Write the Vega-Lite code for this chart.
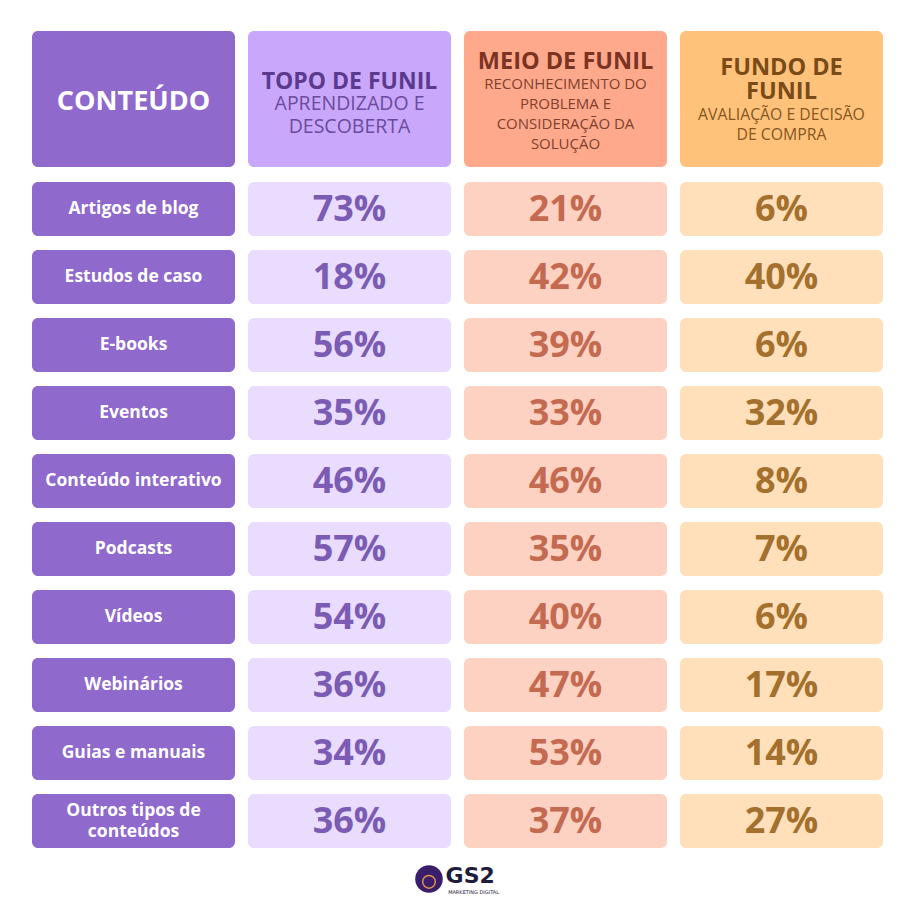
{
  "$schema": "https://vega.github.io/schema/vega-lite/v6.json",
  "background": "white",
  "padding": {"left": 32, "top": 31, "right": 31, "bottom": 8},
  "spacing": 14,
  "config": {"view": {"stroke": null}, "font": "Open Sans", "concat": {"spacing": 14}},
  "resolve": {"scale": {"fill": "independent", "color": "independent", "x": "independent", "y": "independent"}},
  "datasets": {
    "tipos": [
      {"tipo": "Artigos de blog", "rotulo": "Artigos de blog", "etapa": "Conteúdo"},
      {"tipo": "Estudos de caso", "rotulo": "Estudos de caso", "etapa": "Conteúdo"},
      {"tipo": "E-books", "rotulo": "E-books", "etapa": "Conteúdo"},
      {"tipo": "Eventos", "rotulo": "Eventos", "etapa": "Conteúdo"},
      {"tipo": "Conteúdo interativo", "rotulo": "Conteúdo interativo", "etapa": "Conteúdo"},
      {"tipo": "Podcasts", "rotulo": "Podcasts", "etapa": "Conteúdo"},
      {"tipo": "Vídeos", "rotulo": "Vídeos", "etapa": "Conteúdo"},
      {"tipo": "Webinários", "rotulo": "Webinários", "etapa": "Conteúdo"},
      {"tipo": "Guias e manuais", "rotulo": "Guias e manuais", "etapa": "Conteúdo"},
      {"tipo": "Outros tipos de conteúdos", "rotulo": "Outros tipos de\nconteúdos", "etapa": "Conteúdo"}
    ],
    "valores": [
      {"tipo": "Artigos de blog", "etapa": "Topo", "pct": 0.73},
      {"tipo": "Artigos de blog", "etapa": "Meio", "pct": 0.21},
      {"tipo": "Artigos de blog", "etapa": "Fundo", "pct": 0.06},
      {"tipo": "Estudos de caso", "etapa": "Topo", "pct": 0.18},
      {"tipo": "Estudos de caso", "etapa": "Meio", "pct": 0.42},
      {"tipo": "Estudos de caso", "etapa": "Fundo", "pct": 0.40},
      {"tipo": "E-books", "etapa": "Topo", "pct": 0.56},
      {"tipo": "E-books", "etapa": "Meio", "pct": 0.39},
      {"tipo": "E-books", "etapa": "Fundo", "pct": 0.06},
      {"tipo": "Eventos", "etapa": "Topo", "pct": 0.35},
      {"tipo": "Eventos", "etapa": "Meio", "pct": 0.33},
      {"tipo": "Eventos", "etapa": "Fundo", "pct": 0.32},
      {"tipo": "Conteúdo interativo", "etapa": "Topo", "pct": 0.46},
      {"tipo": "Conteúdo interativo", "etapa": "Meio", "pct": 0.46},
      {"tipo": "Conteúdo interativo", "etapa": "Fundo", "pct": 0.08},
      {"tipo": "Podcasts", "etapa": "Topo", "pct": 0.57},
      {"tipo": "Podcasts", "etapa": "Meio", "pct": 0.35},
      {"tipo": "Podcasts", "etapa": "Fundo", "pct": 0.07},
      {"tipo": "Vídeos", "etapa": "Topo", "pct": 0.54},
      {"tipo": "Vídeos", "etapa": "Meio", "pct": 0.40},
      {"tipo": "Vídeos", "etapa": "Fundo", "pct": 0.06},
      {"tipo": "Webinários", "etapa": "Topo", "pct": 0.36},
      {"tipo": "Webinários", "etapa": "Meio", "pct": 0.47},
      {"tipo": "Webinários", "etapa": "Fundo", "pct": 0.17},
      {"tipo": "Guias e manuais", "etapa": "Topo", "pct": 0.34},
      {"tipo": "Guias e manuais", "etapa": "Meio", "pct": 0.53},
      {"tipo": "Guias e manuais", "etapa": "Fundo", "pct": 0.14},
      {"tipo": "Outros tipos de conteúdos", "etapa": "Topo", "pct": 0.36},
      {"tipo": "Outros tipos de conteúdos", "etapa": "Meio", "pct": 0.37},
      {"tipo": "Outros tipos de conteúdos", "etapa": "Fundo", "pct": 0.27}
    ],
    "cabecalho": [
      {"etapa": "Conteúdo"}, {"etapa": "Topo"}, {"etapa": "Meio"}, {"etapa": "Fundo"}
    ],
    "linhas": [
      {"etapa": "Conteúdo", "papel": "titulo", "linha": 1.9, "texto": "CONTEÚDO"},
      {"etapa": "Topo", "papel": "titulo", "linha": 0.95, "texto": "TOPO DE FUNIL"},
      {"etapa": "Topo", "papel": "sub", "linha": 2.0, "texto": "APRENDIZADO E"},
      {"etapa": "Topo", "papel": "sub", "linha": 3.1, "texto": "DESCOBERTA"},
      {"etapa": "Meio", "papel": "titulo", "linha": -0.05, "texto": "MEIO DE FUNIL"},
      {"etapa": "Meio", "papel": "sub", "linha": 1.02, "texto": "RECONHECIMENTO DO"},
      {"etapa": "Meio", "papel": "sub", "linha": 2.0, "texto": "PROBLEMA E"},
      {"etapa": "Meio", "papel": "sub", "linha": 2.98, "texto": "CONSIDERAÇÃO DA"},
      {"etapa": "Meio", "papel": "sub", "linha": 3.95, "texto": "SOLUÇÃO"},
      {"etapa": "Fundo", "papel": "titulo", "linha": 0.25, "texto": "FUNDO DE"},
      {"etapa": "Fundo", "papel": "titulo", "linha": 1.42, "texto": "FUNIL"},
      {"etapa": "Fundo", "papel": "sub", "linha": 2.54, "texto": "AVALIAÇÃO E DECISÃO"},
      {"etapa": "Fundo", "papel": "sub", "linha": 3.51, "texto": "DE COMPRA"}
    ]
  },
  "vconcat": [
    {
      "width": 851,
      "height": 136,
      "encoding": {
        "x": {"field": "etapa", "type": "nominal", "sort": null, "scale": {"domain": ["Conteúdo", "Topo", "Meio", "Fundo"], "paddingInner": 0.0602, "paddingOuter": 0}, "axis": null}
      },
      "layer": [
        {
          "data": {"name": "cabecalho"},
          "mark": {"type": "rect", "cornerRadius": 6},
          "encoding": {
            "y": {"datum": -1.56, "type": "quantitative", "scale": {"domain": [-1.56, 5.07], "reverse": true, "nice": false, "zero": false}, "axis": null},
            "y2": {"datum": 5.07},
            "fill": {"field": "etapa", "type": "nominal", "scale": {"domain": ["Conteúdo", "Topo", "Meio", "Fundo"], "range": ["#9069CD", "#C9A7FB", "#FFA98C", "#FFC27B"]}, "legend": null}
          }
        },
        {
          "data": {"name": "linhas"},
          "transform": [{"filter": "datum.etapa === 'Conteúdo'"}],
          "mark": {"type": "text", "fontWeight": "bold", "baseline": "middle", "fontSize": 27, "color": "#FFFFFF"},
          "encoding": {
            "y": {"field": "linha", "type": "quantitative", "axis": null},
            "text": {"field": "texto"}
          }
        },
        {
          "data": {"name": "linhas"},
          "transform": [{"filter": "datum.etapa === 'Topo' && datum.papel === 'titulo'"}],
          "mark": {"type": "text", "fontWeight": "bold", "baseline": "middle", "fontSize": 23, "color": "#5B3A8E"},
          "encoding": {
            "y": {"field": "linha", "type": "quantitative", "axis": null},
            "text": {"field": "texto"}
          }
        },
        {
          "data": {"name": "linhas"},
          "transform": [{"filter": "datum.etapa === 'Meio' && datum.papel === 'titulo'"}],
          "mark": {"type": "text", "fontWeight": "bold", "baseline": "middle", "fontSize": 23.5, "color": "#7B3322"},
          "encoding": {
            "y": {"field": "linha", "type": "quantitative", "axis": null},
            "text": {"field": "texto"}
          }
        },
        {
          "data": {"name": "linhas"},
          "transform": [{"filter": "datum.etapa === 'Fundo' && datum.papel === 'titulo'"}],
          "mark": {"type": "text", "fontWeight": "bold", "baseline": "middle", "fontSize": 23.5, "color": "#7A4A17"},
          "encoding": {
            "y": {"field": "linha", "type": "quantitative", "axis": null},
            "text": {"field": "texto"}
          }
        },
        {
          "data": {"name": "linhas"},
          "transform": [{"filter": "datum.etapa === 'Topo' && datum.papel === 'sub'"}],
          "mark": {"type": "text", "baseline": "middle", "fontSize": 19.5, "color": "#6A4B9C"},
          "encoding": {
            "y": {"field": "linha", "type": "quantitative", "axis": null},
            "text": {"field": "texto"}
          }
        },
        {
          "data": {"name": "linhas"},
          "transform": [{"filter": "datum.etapa === 'Meio' && datum.papel === 'sub'"}],
          "mark": {"type": "text", "baseline": "middle", "fontSize": 15, "color": "#80402C"},
          "encoding": {
            "y": {"field": "linha", "type": "quantitative", "axis": null},
            "text": {"field": "texto"}
          }
        },
        {
          "data": {"name": "linhas"},
          "transform": [{"filter": "datum.etapa === 'Fundo' && datum.papel === 'sub'"}],
          "mark": {"type": "text", "baseline": "middle", "fontSize": 15.8, "color": "#85561F"},
          "encoding": {
            "y": {"field": "linha", "type": "quantitative", "axis": null},
            "text": {"field": "texto"}
          }
        }
      ]
    },
    {
      "width": 851,
      "height": 666,
      "resolve": {"scale": {"fill": "independent", "color": "independent"}},
      "encoding": {
        "x": {"field": "etapa", "type": "nominal", "sort": null, "scale": {"domain": ["Conteúdo", "Topo", "Meio", "Fundo"], "paddingInner": 0.0602, "paddingOuter": 0}, "axis": null},
        "y": {"field": "tipo", "type": "nominal", "sort": null, "scale": {"domain": ["Artigos de blog", "Estudos de caso", "E-books", "Eventos", "Conteúdo interativo", "Podcasts", "Vídeos", "Webinários", "Guias e manuais", "Outros tipos de conteúdos"], "paddingInner": 0.206, "paddingOuter": 0}, "axis": null}
      },
      "layer": [
        {
          "data": {"name": "tipos"},
          "mark": {"type": "rect", "cornerRadius": 6, "color": "#9069CD"}
        },
        {
          "data": {"name": "tipos"},
          "transform": [{"filter": "indexof(datum.rotulo, '\\n') < 0"}],
          "mark": {"type": "text", "color": "white", "fontSize": 17.5, "fontWeight": "bold", "baseline": "middle"},
          "encoding": {"text": {"field": "rotulo"}}
        },
        {
          "data": {"name": "tipos"},
          "transform": [{"filter": "indexof(datum.rotulo, '\\n') >= 0"}],
          "mark": {"type": "text", "color": "white", "fontSize": 17.5, "fontWeight": "bold", "lineBreak": "\n", "lineHeight": 21, "baseline": "middle", "dy": -10},
          "encoding": {"text": {"field": "rotulo"}}
        },
        {
          "data": {"name": "valores"},
          "mark": {"type": "rect", "cornerRadius": 6},
          "encoding": {
            "fill": {"field": "etapa", "type": "nominal", "scale": {"domain": ["Topo", "Meio", "Fundo"], "range": ["#E9DCFE", "#FED2C3", "#FFE0BA"]}, "legend": null}
          }
        },
        {
          "data": {"name": "valores"},
          "mark": {"type": "text", "fontSize": 36, "fontWeight": "bold", "baseline": "middle", "dy": 1},
          "encoding": {
            "text": {"field": "pct", "type": "quantitative", "format": ".0%"},
            "color": {"field": "etapa", "type": "nominal", "scale": {"domain": ["Topo", "Meio", "Fundo"], "range": ["#7B5BB3", "#C46A50", "#A3702E"]}, "legend": null}
          }
        }
      ]
    },
    {
      "width": 851,
      "height": 36,
      "data": {"values": [{"marca": "GS2", "linha2": "MARKETING DIGITAL"}]},
      "layer": [
        {
          "mark": {"type": "point", "shape": "circle", "filled": true, "size": 760, "color": "#3A1D6B", "opacity": 1},
          "encoding": {
            "x": {"datum": 0.4665, "type": "quantitative", "scale": {"domain": [0, 1], "nice": false}, "axis": null},
            "y": {"datum": 0.53, "type": "quantitative", "scale": {"domain": [0, 1], "nice": false}, "axis": null}
          }
        },
        {
          "mark": {"type": "point", "shape": "circle", "filled": false, "size": 160, "color": "#E0954A", "strokeWidth": 1.5, "opacity": 1},
          "encoding": {
            "x": {"datum": 0.4665, "type": "quantitative", "scale": {"domain": [0, 1], "nice": false}, "axis": null},
            "y": {"datum": 0.45, "type": "quantitative", "scale": {"domain": [0, 1], "nice": false}, "axis": null}
          }
        },
        {
          "mark": {"type": "text", "font": "DejaVu Sans", "fontWeight": "bold", "fontSize": 22, "align": "left", "baseline": "middle", "color": "#1E1C3A"},
          "encoding": {
            "x": {"datum": 0.486, "type": "quantitative", "scale": {"domain": [0, 1], "nice": false}, "axis": null},
            "y": {"datum": 0.62, "type": "quantitative", "scale": {"domain": [0, 1], "nice": false}, "axis": null},
            "text": {"field": "marca"}
          }
        },
        {
          "mark": {"type": "text", "font": "DejaVu Sans", "fontSize": 5, "align": "left", "baseline": "middle", "color": "#1E1C3A"},
          "encoding": {
            "x": {"datum": 0.489, "type": "quantitative", "scale": {"domain": [0, 1], "nice": false}, "axis": null},
            "y": {"datum": 0.17, "type": "quantitative", "scale": {"domain": [0, 1], "nice": false}, "axis": null},
            "text": {"field": "linha2"}
          }
        }
      ]
    }
  ]
}
